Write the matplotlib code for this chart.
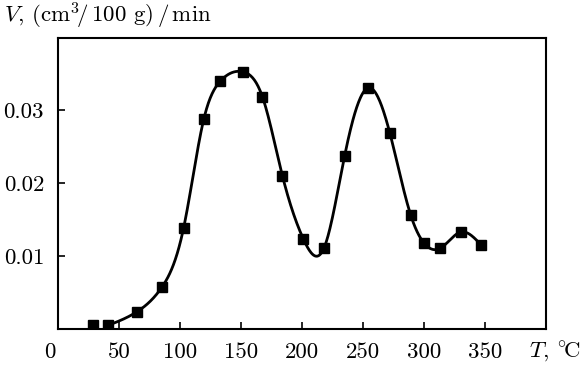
import numpy as np
import matplotlib
matplotlib.use("Agg")
import matplotlib.pyplot as plt

plt.rcParams['font.family'] = ['cmr10', 'DejaVu Serif']
plt.rcParams['mathtext.fontset'] = 'cm'
plt.rcParams['axes.formatter.use_mathtext'] = True

# measured rate vs temperature
temp_c = [29, 41, 65, 85, 103, 119.5, 133, 151.5, 167.5, 184, 201, 218,
          235, 254.5, 272, 289, 300, 313.5, 330, 347]
rate = [0.0005, 0.0005, 0.0024, 0.0057, 0.0139, 0.0288, 0.0340, 0.0353,
        0.0319, 0.0210, 0.0124, 0.0111, 0.0238, 0.0331, 0.0269, 0.0157,
        0.0118, 0.0111, 0.0133, 0.0115]

x_ticks = [50, 100, 150, 200, 250, 300, 350]
y_ticks = [0.01, 0.02, 0.03]
y_tick_labels = ['0.01', '0.02', '0.03']


def natural_spline(x, y, n=600):
    x = np.asarray(x, float)
    y = np.asarray(y, float)
    k = len(x)
    h = np.diff(x)
    A = np.zeros((k, k))
    b = np.zeros(k)
    A[0, 0] = A[-1, -1] = 1
    for i in range(1, k - 1):
        A[i, i - 1] = h[i - 1]
        A[i, i] = 2 * (h[i - 1] + h[i])
        A[i, i + 1] = h[i]
        b[i] = 6 * ((y[i + 1] - y[i]) / h[i] - (y[i] - y[i - 1]) / h[i - 1])
    m = np.linalg.solve(A, b)
    xs = np.linspace(x[0], x[-1], n)
    idx = np.clip(np.searchsorted(x, xs) - 1, 0, k - 2)
    x0, x1 = x[idx], x[idx + 1]
    hh = x1 - x0
    t0, t1 = x1 - xs, xs - x0
    ys = (m[idx] * t0 ** 3 + m[idx + 1] * t1 ** 3) / (6 * hh) \
        + (y[idx] / hh - m[idx] * hh / 6) * t0 \
        + (y[idx + 1] / hh - m[idx + 1] * hh / 6) * t1
    return xs, ys


fig = plt.figure(figsize=(5.83, 3.66), dpi=100)
ax = fig.add_axes([0.0995, 0.101, 0.837, 0.7965])

xs, ys = natural_spline(temp_c[1:], rate[1:])
ax.plot(xs, ys, color='black', lw=2.0, zorder=2)
ax.plot(temp_c, rate, 's', color='black', ms=7.8, zorder=3)

ax.set_xlim(0, 400)
ax.set_ylim(0, 0.04)
ax.set_xticks(x_ticks)
ax.set_xticklabels([str(v) for v in x_ticks])
ax.set_yticks(y_ticks)
ax.set_yticklabels(y_tick_labels)
ax.tick_params(direction='in', length=5, width=1.2, labelsize=16.5, colors='black')
ax.tick_params(axis='x', pad=10)
ax.tick_params(axis='y', pad=10)
for s in ax.spines.values():
    s.set_linewidth(1.5)

ax.annotate('0', xy=(0, 0), xycoords='data', xytext=(-6, -10),
            textcoords='offset points', ha='center', va='top', fontsize=16.5)
fig.text(555 / 583, 1 - 352 / 366, r'$T$, $^{\circ}\!$C', ha='center', va='center', fontsize=16.5)
fig.text(4 / 583, 1 - 16 / 366, r'$V$, (cm$^3\!/\,$100 g)$\,/\,$min',
         ha='left', va='center', fontsize=16.5)

fig.savefig('out.png', dpi=100)
